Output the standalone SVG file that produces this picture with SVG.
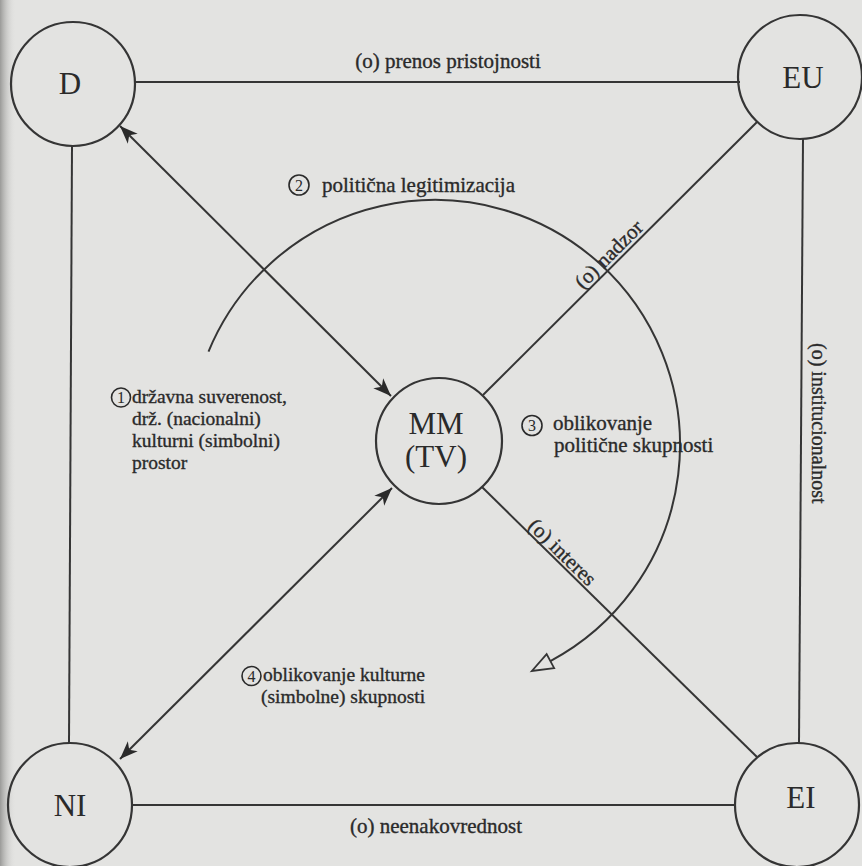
<svg xmlns="http://www.w3.org/2000/svg" width="862" height="866" viewBox="0 0 862 866">
  <style>
    .ln { fill: none; stroke: #353535; stroke-width: 2; }
    .nd { fill: none; stroke: #353535; stroke-width: 2.2; }
    .nt { font-family: 'Liberation Serif', 'DejaVu Serif', serif; font-size: 31px; fill: #2a2a2a; text-anchor: middle; }
    .lb { font-family: 'Liberation Serif', 'DejaVu Serif', serif; font-size: 21px; fill: #2a2a2a; stroke: #2a2a2a; stroke-width: 0.35; }
    .lb1 { font-size: 19.5px; }
    .num { font-family: 'Liberation Serif', 'DejaVu Serif', serif; font-size: 16px; fill: #2a2a2a; text-anchor: middle; }
    .nc { fill: none; stroke: #2a2a2a; stroke-width: 1.6; }
  </style>
  <defs>
    <linearGradient id="shade" x1="0" y1="0" x2="1" y2="0">
      <stop offset="0" stop-color="#9a9a98"/>
      <stop offset="1" stop-color="#e3e3e1" stop-opacity="0"/>
    </linearGradient>
    <marker id="arr" markerUnits="userSpaceOnUse" orient="auto-start-reverse" refX="0" refY="0" markerWidth="30" markerHeight="30" overflow="visible">
      <path d="M0,0 L-18,-7 L-13,0 L-18,7 Z" fill="#2a2a2a"/>
    </marker>
    <marker id="open" markerUnits="userSpaceOnUse" orient="auto" refX="0" refY="0" markerWidth="30" markerHeight="30" overflow="visible">
      <path d="M0,-8 L21,0 L0,8 Z" fill="#e3e3e1" stroke="#353535" stroke-width="1.8" stroke-linejoin="miter"/>
    </marker>
  </defs>

  <rect x="0" y="0" width="862" height="866" fill="#e3e3e1"/>
  <rect x="0" y="0" width="16" height="866" fill="url(#shade)"/>

  <g id="connectors">
    <path class="ln" d="M135,82 H740"/>
    <path class="ln" d="M72,146 L69,743"/>
    <path class="ln" d="M803,139 L799,743"/>
    <path class="ln" d="M133,805 H735"/>
    <path class="ln" d="M483,395 L757,122"/>
    <path class="ln" d="M482,487 L757,757"/>
    <path class="ln" d="M120,126 L391,396" marker-start="url(#arr)" marker-end="url(#arr)"/>
    <path class="ln" d="M392,488 L120,759" marker-start="url(#arr)" marker-end="url(#arr)"/>
    <path class="ln" d="M208.5,351.6 A245,245 0 1 1 550.4,661.1" marker-end="url(#open)"/>
  </g>

  <g id="edge-labels">
    <text class="lb" x="448" y="68" text-anchor="middle">(o) prenos pristojnosti</text>
    <text class="lb" x="436" y="833" text-anchor="middle">(o) neenakovrednost</text>
    <text class="lb" transform="translate(583,290) rotate(-45)">(o) nadzor</text>
    <text class="lb" transform="translate(527,527) rotate(44.5)">(o) interes</text>
    <text class="lb" transform="translate(812,343) rotate(90)" style="font-size:20px">(o) institucionalnost</text>
  </g>

  <g id="label-1">
    <circle class="nc" cx="121" cy="397.5" r="9.5"/>
    <text class="num" x="121" y="403">1</text>
    <text class="lb lb1" x="132" y="403">državna suverenost,</text>
    <text class="lb lb1" x="132" y="425">drž. (nacionalni)</text>
    <text class="lb lb1" x="132" y="447">kulturni (simbolni)</text>
    <text class="lb lb1" x="132" y="469">prostor</text>
  </g>
  <g id="label-2">
    <circle class="nc" cx="299" cy="185" r="10"/>
    <text class="num" x="299" y="190.5">2</text>
    <text class="lb" x="322" y="192">politična legitimizacija</text>
  </g>
  <g id="label-3">
    <circle class="nc" cx="532" cy="425.5" r="10"/>
    <text class="num" x="532" y="431">3</text>
    <text class="lb" x="553" y="430">oblikovanje</text>
    <text class="lb" x="554" y="452">politične skupnosti</text>
  </g>
  <g id="label-4">
    <circle class="nc" cx="251.5" cy="676" r="9.5"/>
    <text class="num" x="251.5" y="681.5">4</text>
    <text class="lb lb1" x="263" y="681">oblikovanje kulturne</text>
    <text class="lb lb1" x="261" y="703">(simbolne) skupnosti</text>
  </g>

  <g id="node-D">
    <circle class="nd" cx="73" cy="84" r="62"/>
    <text class="nt" x="70" y="94">D</text>
  </g>
  <g id="node-EU">
    <circle class="nd" cx="800" cy="77" r="62"/>
    <text class="nt" x="803" y="88">EU</text>
  </g>
  <g id="node-NI">
    <circle class="nd" cx="70" cy="805" r="62"/>
    <text class="nt" x="70" y="816">NI</text>
  </g>
  <g id="node-EI">
    <circle class="nd" cx="797" cy="805" r="62"/>
    <text class="nt" x="801" y="808">EI</text>
  </g>
  <g id="node-MM">
    <circle class="nd" cx="439" cy="441" r="63"/>
    <text class="nt" x="436" y="434">MM</text>
    <text class="nt" x="436" y="467">(TV)</text>
  </g>
</svg>
